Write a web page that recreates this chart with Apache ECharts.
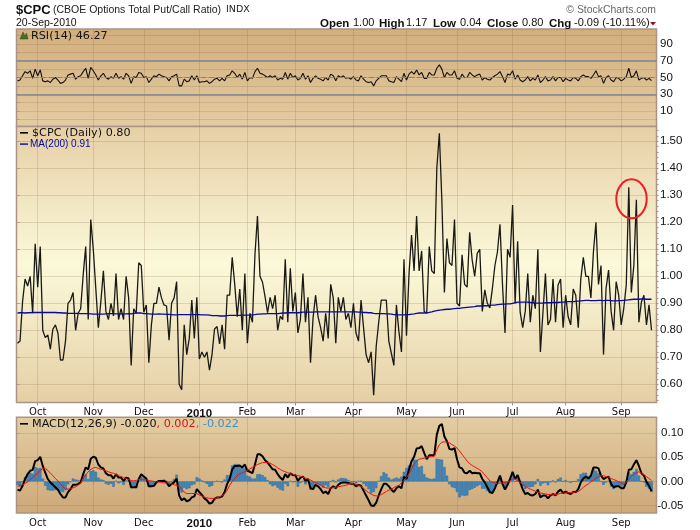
<!DOCTYPE html>
<html>
<head>
<meta charset="utf-8">
<style>
  html, body { margin: 0; padding: 0; background: #fff; }
  #chart { width: 700px; height: 530px; }
</style>
<script src="https://cdn.jsdelivr.net/npm/echarts@6/dist/echarts.min.js"></script>
</head>
<body>
<div id="chart"></div>
<script>
"use strict";

// trading-day index of the first session of each month, and the label under it
const monthIndex = [8, 30, 50, 72, 91, 110, 133, 154, 174, 196, 217, 239];
const monthLabels = ['Oct', 'Nov', 'Dec', '2010', 'Feb', 'Mar', 'Apr', 'May', 'Jun', 'Jul', 'Aug', 'Sep'];

const rsiTicks = [0, 10, 20, 30, 40, 50, 60, 70, 80, 90, 100];
const rsiLabels = [10, 30, 50, 70, 90];
const priceLabels = [0.6, 0.7, 0.8, 0.9, 1.0, 1.1, 1.2, 1.3, 1.4, 1.5];
const macdLabels = [-0.05, 0, 0.05, 0.10];

const rsi = [
  46,47,52,57,55,58,49,60,52,59, 46,45,46,44,48,50,47,43,44,47,
  53,54,55,48,51,52,57,61,49,62, 58,53,47,52,55,50,48,51,49,55,
  49,51,48,55,52,43,51,50,56,55, 50,51,44,48,52,51,54,52,51,50,
  46,51,52,54,40,40,48,45,46,52, 47,52,44,45,45,46,43,45,48,49,
  46,49,46,52,53,58,55,50,54,48, 56,46,50,49,57,61,55,54,52,50,
  52,50,52,47,49,48,56,48,55,50, 52,47,49,55,48,52,44,49,52,49,
  48,46,50,47,54,52,46,52,50,52, 49,50,48,51,47,46,52,48,45,44,
  45,40,46,49,52,52,52,46,45,44, 51,48,45,55,47,54,57,54,59,53,
  56,49,49,56,53,53,61,65,60,50, 56,53,53,58,49,48,54,50,50,56,
  53,51,53,54,47,50,48,47,50,52, 54,57,51,44,54,53,58,48,53,47,
  45,47,51,46,49,47,53,44,47,51, 46,47,51,46,50,50,45,49,47,46,
  50,49,46,51,53,51,51,49,53,58, 51,52,43,50,52,47,45,50,49,46,
  48,51,61,50,52,58,47,49,50,47, 49,46.27
];

const cpc = [
  .752,.76,.906,.99,.964,1.0,.863,1.12,.96,1.11, .80,.773,.783,.73,.804,.82,.79,.69,.69,.76,
  .90,.912,.94,.80,.863,.88,1.005,1.11,.84,1.21, 1.10,.955,.81,.906,1.02,.87,.84,.90,.853,1.01,
  .84,.88,.84,1.0,.92,.67,.88,.863,1.05,1.04, .867,.894,.68,.82,.90,.90,.96,.92,.894,.89,
  .763,.90,.92,.98,.60,.58,.82,.71,.77,.912, .77,.922,.694,.72,.70,.72,.652,.71,.805,.814,
  .75,.82,.73,.93,.93,1.07,.97,.85,.953,.80, 1.01,.752,.863,.83,1.08,1.223,1.0,.978,.925,.865,
  .922,.88,.93,.80,.852,.84,1.063,.83,1.03,.87, .94,.79,.84,1.01,.83,.922,.68,.845,.93,.85,
  .81,.76,.863,.77,.97,.92,.752,.922,.87,.922, .84,.863,.81,.90,.79,.76,.912,.81,.71,.68,
  .72,.56,.74,.83,.912,.912,.912,.76,.715,.67, .894,.795,.72,1.063,.78,1.01,1.153,1.02,1.223,1.02,
  1.094,.87,.863,1.11,1.02,1.01,1.40,1.53,1.28,.94, 1.14,1.05,1.04,1.21,.90,.89,1.08,.97,.96,1.163,
  1.06,1.0,1.085,1.10,.87,.95,.90,.883,.955,1.04, 1.09,1.193,.97,.79,1.10,1.07,1.264,.90,1.13,.867,
  .81,.87,1.01,.83,.93,.88,1.10,.72,.863,1.01, .82,.84,.99,.83,.968,.99,.81,.93,.85,.82,
  .953,.93,.81,.99,1.07,1.0,1.0,.92,1.09,1.20, .97,1.04,.71,.955,1.023,.87,.80,.98,.93,.82,
  .88,.968,1.33,.94,1.04,1.283,.83,.905,.93,.82, .894,.80
];

const ma200 = [
  .864,.865,.865,.864,.865,.865,.866,.866,.866,.866, .866,.866,.866,.866,.866,.866,.865,.865,.864,.864,
  .863,.863,.863,.863,.863,.862,.862,.862,.862,.861, .860,.860,.860,.860,.860,.861,.862,.862,.862,.861,
  .861,.861,.861,.861,.862,.861,.863,.864,.864,.864, .862,.862,.861,.860,.860,.860,.861,.860,.860,.859,
  .859,.858,.857,.857,.858,.858,.858,.858,.858,.858, .858,.858,.858,.857,.857,.857,.856,.854,.854,.854,
  .853,.853,.853,.854,.855,.855,.855,.855,.855,.856, .856,.856,.856,.857,.858,.860,.860,.861,.861,.862,
  .862,.862,.862,.862,.863,.864,.864,.865,.865,.865, .865,.865,.866,.867,.867,.867,.867,.867,.868,.868,
  .868,.868,.868,.868,.868,.868,.868,.868,.868,.868, .868,.868,.868,.868,.868,.867,.867,.866,.866,.865,
  .865,.863,.862,.862,.862,.862,.861,.861,.860,.858, .858,.857,.857,.857,.858,.858,.860,.861,.863,.864,
  .864,.864,.865,.866,.868,.871,.873,.875,.876,.877, .878,.878,.879,.880,.881,.881,.883,.884,.885,.886,
  .887,.888,.890,.890,.890,.891,.891,.892,.893,.893, .895,.896,.897,.897,.898,.898,.900,.902,.904,.904,
  .904,.904,.904,.903,.902,.901,.901,.901,.901,.902, .902,.902,.903,.903,.903,.904,.904,.905,.906,.906,
  .906,.907,.908,.909,.910,.911,.911,.910,.910,.910, .911,.911,.910,.911,.911,.910,.909,.909,.910,.910,
  .911,.912,.913,.914,.915,.915,.915,.916,.916,.915, .915,.915
];

const macd = [
  -.017,-.019,-.009,.005,.015,.022,.024,.042,.044,.051, .032,.018,.005,-.002,-.007,-.012,-.017,-.026,-.033,-.033,
  -.022,-.016,-.007,-.007,-.005,-.002,.015,.029,.025,.047, .051,.049,.035,.029,.027,.017,.013,.013,.006,.015,
  .008,.008,.001,.008,.006,-.012,-.012,-.012,.005,.015, .010,.006,-.010,-.010,-.009,-.002,.001,.001,.001,-.002,
  -.010,-.005,-.002,.006,-.029,-.039,-.035,-.041,-.039,-.033, -.031,-.016,-.022,-.028,-.035,-.039,-.046,-.044,-.036,-.033,
  -.033,-.031,-.022,-.005,.005,.025,.032,.032,.033,.029, .035,.022,.020,.017,.035,.056,.056,.052,.044,.039,
  .032,.025,.024,.015,.008,.003,.015,.008,.017,.013, .013,.001,.008,.010,.001,.005,-.014,-.016,-.007,-.010,
  -.016,-.024,-.021,-.026,-.014,-.010,-.014,-.007,-.003,-.002, -.002,-.003,-.005,-.005,-.010,-.007,-.009,-.019,-.029,-.039,
  -.050,-.051,-.044,-.029,-.016,-.005,-.005,-.010,-.017,-.022, -.014,-.010,-.014,.010,.005,.025,.042,.051,.068,.069,
  .073,.059,.046,.054,.054,.054,.097,.115,.119,.093, .083,.067,.066,.069,.046,.029,.027,.018,.017,.022,
  .017,.018,.017,.017,.005,-.002,-.012,-.022,-.024,-.014, -.002,.012,-.005,-.017,-.007,.005,.020,.005,.013,-.002,
  -.016,-.026,-.024,-.028,-.029,-.026,-.017,-.033,-.029,-.029, -.035,-.029,-.026,-.029,-.021,-.017,-.024,-.021,-.024,-.026,
  -.022,-.022,-.016,-.002,.006,.010,.006,.012,.029,.029, .027,.012,.005,.008,.010,-.005,-.012,-.010,-.010,-.014,
  -.014,-.002,.024,.025,.035,.044,.032,.017,.012,-.001, -.009,-.020
];

const signal = [
  -.010,-.009,-.007,-.004,-.001,.004,.008,.012,.017,.023, .026,.027,.023,.017,.012,.006,.001,-.005,-.011,-.015,
  -.016,-.015,-.013,-.011,-.008,-.003,.006,.014,.020,.025, .028,.029,.027,.025,.024,.022,.020,.018,.017,.014,
  .012,.010,.008,.006,.004,.002,.001,.002,.004,.005, .004,.003,.002,.001,0,-.001,-.001,-.002,-.003,-.003,
  -.004,-.005,-.007,-.008,-.010,-.016,-.022,-.025,-.025,-.025, -.025,-.025,-.028,-.030,-.033,-.034,-.035,-.035,-.035,-.034,
  -.032,-.029,-.026,-.018,-.008,0,.006,.012,.016,.018, .020,.023,.026,.029,.032,.035,.037,.039,.039,.039,
  .038,.035,.032,.028,.025,.022,.020,.018,.016,.015, .013,.012,.011,.009,.007,.005,.003,0,-.003,-.005,
  -.008,-.011,-.013,-.014,-.014,-.013,-.012,-.011,-.010,-.009, -.008,-.006,-.004,-.005,-.006,-.008,-.010,-.014,-.019,-.023,
  -.026,-.029,-.030,-.030,-.027,-.024,-.021,-.018,-.016,-.013, -.010,-.008,-.003,.002,.008,.016,.026,.036,.042,.046,
  .047,.048,.050,.051,.051,.052,.066,.076,.081,.082, .082,.080,.076,.073,.069,.063,.056,.049,.042,.037,
  .033,.030,.027,.024,.020,.013,.008,.001,-.002,-.003, -.005,-.003,-.003,-.002,-.001,.001,.005,.005,.001,-.002,
  -.006,-.010,-.013,-.016,-.018,-.020,-.022,-.024,-.025,-.026, -.027,-.027,-.028,-.027,-.026,-.025,-.024,-.024,-.023,-.023,
  -.023,-.022,-.021,-.017,-.012,-.008,-.005,-.001,.003,.007, .010,.012,.012,.010,.009,.006,.004,.002,-.001,-.003,
  -.006,-.002,.005,.010,.015,.018,.020,.017,.014,.010, .006,.002
];

const histogram = [
  -.007,-.010,-.002,.009,.016,.018,.016,.030,.027,.028, .006,-.009,-.018,-.019,-.019,-.018,-.018,-.021,-.022,-.018,
  -.006,-.001,.006,.004,.003,.001,.009,.015,.005,.022, .023,.020,.008,.004,.003,-.005,-.007,-.005,-.011,.001,
  -.004,-.002,-.007,.002,.002,-.014,-.013,-.014,.001,.010, .006,.003,-.012,-.011,-.009,-.001,.002,.003,.004,.001,
  -.006,0,.005,.014,-.019,-.023,-.013,-.016,-.014,-.008, -.006,.009,.006,.002,-.002,-.005,-.011,-.009,-.001,.001,
  -.001,-.002,.004,.013,.013,.033,.036,.036,.030,.028, .027,.012,.010,.006,.006,.015,.015,.013,.009,.003,
  -.006,-.010,-.008,-.013,-.017,-.019,-.005,-.010,.001,-.002, 0,-.011,-.003,.001,-.006,0,-.017,-.016,-.004,-.005,
  -.008,-.013,-.008,-.012,0,.003,-.002,.004,.007,.007, .006,.003,-.001,0,-.004,.001,.001,-.005,-.010,-.016,
  -.024,-.022,-.014,.001,.011,.019,.016,.008,.004,.006, .008,.006,.010,.020,.028,.033,.035,.045,.045,.030,
  .032,.015,.008,.006,.005,.006,.047,.046,.045,.030, .012,-.006,-.012,-.014,-.022,-.033,-.029,-.030,-.029,-.018,
  -.016,-.013,-.010,-.007,-.015,-.015,-.020,-.024,-.022,-.011, -.002,.008,-.002,-.015,-.006,.004,.015,0,.012,0,
  -.010,-.016,-.011,-.012,-.011,-.006,.005,-.009,-.004,-.003, -.008,-.002,.002,-.002,.005,.008,0,.003,-.001,-.003,
  0,0,.005,.015,.018,.018,.011,.013,.026,.022, .017,0,-.007,-.002,.001,-.011,-.016,-.012,-.009,-.011,
  -.008,0,.019,.015,.020,.026,.012,0,-.002,-.011, -.015,-.022
];

// header line: text, x, bold
const headerItems = [
  ['Open', 320, true], ['1.00', 353, false], ['High', 379, true], ['1.17', 406, false],
  ['Low', 433, true], ['0.04', 460, false], ['Close', 487, true], ['0.80', 522, false],
  ['Chg', 549, true], ['-0.09 (-10.11%)', 574, false]
];

const pairs = arr => arr.map((v, i) => [i, v]);
const gradient = stops => new echarts.graphic.LinearGradient(0, 0, 0, 1,
  stops.map(s => ({ offset: s[0], color: s[1] })));

const BORDER = '#AB9385';
const GRIDLINE = 'rgba(140,105,70,0.22)';
const SANS = '"Liberation Sans", Arial, sans-serif';
const DEJA = '"DejaVu Sans", Verdana, sans-serif';

const panelGrid = (top, height, fill) => ({
  left: 16.5, right: 43.5, top, height, show: true, z: 0,
  backgroundColor: fill, borderColor: BORDER, borderWidth: 1.5
});

const xAxisFor = (gridIndex, showLabel) => ({
  type: 'value', gridIndex, min: -0.396, max: 252.97,
  axisLine: { show: false },
  axisTick: { show: showLabel, length: 3, lineStyle: { color: BORDER }, customValues: monthIndex },
  splitLine: { show: true, lineStyle: { color: GRIDLINE, width: 1 } },
  axisLabel: {
    show: showLabel, customValues: monthIndex, margin: 5,
    fontFamily: DEJA, fontSize: 10, color: '#111',
    formatter: v => {
      const s = monthLabels[monthIndex.indexOf(v)];
      return s === '2010' ? '{y|2010}' : s;
    },
    rich: { y: { fontFamily: SANS, fontWeight: 'bold', fontSize: 11.5, color: '#111' } }
  }
});

const minorPriceTicks = [];
for (let k = 27; k <= 77; k++) minorPriceTicks.push(k * 0.02);

const option = {
  animation: false,
  backgroundColor: '#fff',
  grid: [
    panelGrid(29, 97.5, gradient([[0, '#D2AE7C'], [1, '#E4CCA2']])),
    panelGrid(126.5, 276, gradient([[0, '#E6CFA5'], [0.5, '#FBF9DA'], [1, '#E5CFA5']])),
    panelGrid(417.3, 97, gradient([[0, '#E4CDA3'], [1, '#CDA878']]))
  ],
  xAxis: [xAxisFor(0, false), xAxisFor(1, true), xAxisFor(2, true)],
  yAxis: [
    {
      type: 'value', gridIndex: 0, position: 'right', min: -8.3, max: 107.7,
      axisLine: { show: false },
      axisTick: { length: 2, lineStyle: { color: BORDER }, customValues: rsiTicks },
      splitLine: { show: true, lineStyle: { color: GRIDLINE } },
      axisLabel: { customValues: rsiLabels, margin: 3.5, fontFamily: SANS, fontSize: 11.5, color: '#111' }
    },
    {
      type: 'value', gridIndex: 1, position: 'right', min: 0.5326, max: 1.5548,
      axisLine: { show: false },
      axisTick: { length: 2, lineStyle: { color: BORDER }, customValues: priceLabels },
      splitLine: { show: true, lineStyle: { color: GRIDLINE } },
      axisLabel: {
        customValues: priceLabels, margin: 3.5, fontFamily: SANS, fontSize: 11.5, color: '#111',
        formatter: v => v.toFixed(2)
      }
    },
    {
      // small ticks every 0.02 along the price scale
      type: 'value', gridIndex: 1, position: 'right', min: 0.5326, max: 1.5548,
      axisLine: { show: false },
      axisTick: { length: 2, lineStyle: { color: BORDER }, customValues: minorPriceTicks },
      splitLine: { show: false },
      axisLabel: { show: false }
    },
    {
      type: 'value', gridIndex: 2, position: 'right', min: -0.0653, max: 0.1327,
      axisLine: { show: false },
      axisTick: { length: 2, lineStyle: { color: BORDER }, customValues: macdLabels },
      splitLine: { show: true, lineStyle: { color: GRIDLINE } },
      axisLabel: {
        customValues: macdLabels, margin: 27, align: 'right',
        fontFamily: SANS, fontSize: 11.5, color: '#111',
        formatter: v => v.toFixed(2)
      }
    }
  ],
  series: [
    {
      name: 'RSI(14)', type: 'line', xAxisIndex: 0, yAxisIndex: 0, data: pairs(rsi),
      showSymbol: false, lineStyle: { color: '#111', width: 1.1 },
      markLine: {
        silent: true, symbol: 'none', label: { show: false },
        data: [
          { yAxis: 70, lineStyle: { color: '#7D8699', width: 1.5, type: 'solid' } },
          { yAxis: 30, lineStyle: { color: '#7D8699', width: 1.5, type: 'solid' } },
          { yAxis: 50, lineStyle: { color: '#8A8378', width: 1, type: [6, 2] } }
        ]
      }
    },
    {
      name: '$CPC', type: 'line', xAxisIndex: 1, yAxisIndex: 1, data: pairs(cpc),
      showSymbol: false, lineStyle: { color: '#1A1A14', width: 1.3 }
    },
    {
      name: 'MA(200)', type: 'line', xAxisIndex: 1, yAxisIndex: 1, data: pairs(ma200),
      showSymbol: false, lineStyle: { color: '#0A0A9A', width: 1.3 }
    },
    {
      name: 'Histogram', type: 'bar', xAxisIndex: 2, yAxisIndex: 3, data: pairs(histogram),
      barWidth: 2.5, itemStyle: { color: '#3F86BC', borderColor: '#2D6FA3', borderWidth: 0.5 }
    },
    {
      name: 'MACD', type: 'line', xAxisIndex: 2, yAxisIndex: 3, data: pairs(macd), z: 4,
      showSymbol: false, lineStyle: { color: '#000', width: 2 }
    },
    {
      name: 'Signal', type: 'line', xAxisIndex: 2, yAxisIndex: 3, data: pairs(signal), z: 5,
      showSymbol: false, lineStyle: { color: '#F01010', width: 1 }
    }
  ],
  graphic: { elements: [
    { type: 'text', x: 16, y: 4, style: { text: '$CPC', font: 'bold 13px ' + SANS, fill: '#111' } },
    { type: 'text', x: 53, y: 4.5, style: { text: '(CBOE Options Total Put/Call Ratio)', font: '10.5px ' + SANS, fill: '#222' } },
    { type: 'text', x: 226, y: 5, style: { text: 'INDX', font: '9.5px ' + DEJA, fill: '#222' } },
    { type: 'text', x: 16, y: 18, style: { text: '20-Sep-2010', font: '10.5px ' + SANS, fill: '#111' } },
    { type: 'text', x: 656, y: 5, style: { text: '© StockCharts.com', font: '10.4px ' + SANS, fill: '#666', align: 'right' } },
    ...headerItems.map(h => ({
      type: 'text', x: h[1], y: 17.5,
      style: { text: h[0], font: (h[2] ? 'bold 11.5px ' : '11px ') + SANS, fill: '#111' }
    })),
    { type: 'polygon', shape: { points: [[650, 22], [656, 22], [653, 25.5]] }, style: { fill: '#8A1030' } },

    // RSI legend with its little mountain icon
    { type: 'polygon', z: 10, shape: { points: [[20, 39], [23, 32], [25, 36], [26.5, 33], [28, 39]] }, style: { fill: '#4E6B2E', stroke: '#2E4A1A', lineWidth: 0.5 } },
    { type: 'text', z: 10, x: 31, y: 31, style: { text: 'RSI(14) 46.27', font: '11.2px ' + DEJA, fill: '#111' } },

    // price legend
    { type: 'rect', z: 10, shape: { x: 20, y: 132, width: 8, height: 1.6 }, style: { fill: '#000' } },
    { type: 'text', z: 10, x: 32, y: 127.5, style: { text: '$CPC (Daily) 0.80', font: '11.2px ' + DEJA, fill: '#111' } },
    { type: 'rect', z: 10, shape: { x: 20, y: 143.4, width: 8, height: 1.4 }, style: { fill: '#0A0A9A' } },
    { type: 'text', z: 10, x: 30, y: 139, style: { text: 'MA(200) 0.91', font: '10px ' + SANS, fill: '#0A0A9A' } },

    // MACD legend
    { type: 'rect', z: 10, shape: { x: 20, y: 423, width: 8, height: 1.6 }, style: { fill: '#000' } },
    {
      type: 'text', z: 10, x: 32, y: 418.5,
      style: {
        text: '{k|MACD(12,26,9) -0.020}{r|, 0.002}{b|, -0.022}',
        font: '11.2px ' + DEJA,
        rich: {
          k: { fill: '#111', font: '11.2px ' + DEJA },
          r: { fill: '#E01010', font: '11.2px ' + DEJA },
          b: { fill: '#3F8FC8', font: '11.2px ' + DEJA }
        }
      }
    },

    // hand-drawn circle around the September spikes
    { type: 'ellipse', z: 10, shape: { cx: 631.5, cy: 198.8, rx: 15.2, ry: 19.5 }, style: { fill: 'none', stroke: '#EE1C25', lineWidth: 2 } }
  ] }
};

const chart = echarts.init(document.getElementById('chart'));
chart.setOption(option);
</script>
</body>
</html>
